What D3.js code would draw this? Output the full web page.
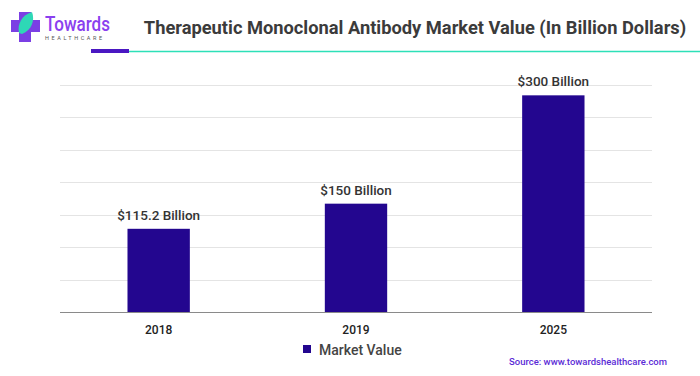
<!DOCTYPE html>
<html>
<head>
<meta charset="utf-8">
<script src="https://cdn.jsdelivr.net/npm/d3@7"></script>
<style>
  body { margin: 0; background: #fff; }
  svg { display: block; font-family: Roboto, "Liberation Sans", sans-serif; }
</style>
</head>
<body>
<svg id="chart" width="700" height="376"></svg>
<script>
var years = ["2018", "2019", "2025"]
var marketValue = [115.2, 150, 300]
var valueLabels = ["$115.2 Billion", "$150 Billion", "$300 Billion"]
var gridTicks = [0, 45, 90, 135, 180, 225, 270, 315]

var svg = d3.select("#chart"),
  margin = {top: 84.5, right: 48, bottom: 64, left: 60},
  width = +svg.attr("width") - margin.left - margin.right,
  height = +svg.attr("height") - margin.top - margin.bottom;

var x = d3.scaleBand().range([margin.left, margin.left + width]).domain(years).padding(0),
  y = d3.scaleLinear().range([margin.top + height, margin.top]).domain([0, 315]);

var barW = x.bandwidth() * 0.316

// header: logo
var logo = svg.append("g")
logo.append("rect").attr("x", 11).attr("y", 20).attr("width", 29).attr("height", 12).attr("fill", "#7b3fe4")
logo.append("rect").attr("x", 19).attr("y", 12).attr("width", 12).attr("height", 30).attr("fill", "#7b3fe4")
logo.append("path")
  .attr("d", "M19,33 C17,24 22,15 32,12 C35,20 32,30 22,34 Z")
  .attr("fill", "#2ed8b6")
logo.append("text").attr("x", 45).attr("y", 31).text("Towards")
  .attr("font-size", 20).attr("font-weight", 500).attr("fill", "#8a40ef")
  .attr("textLength", 65).attr("lengthAdjust", "spacingAndGlyphs")
logo.append("text").attr("x", 45).attr("y", 40).text("HEALTHCARE")
  .attr("font-size", 5.5).attr("letter-spacing", 2.6).attr("fill", "#555")

// title
svg.append("text").attr("x", 415).attr("y", 34).attr("text-anchor", "middle")
  .text("Therapeutic Monoclonal Antibody Market Value (In Billion Dollars)")
  .attr("font-size", 18.3).attr("font-weight", "bold").attr("fill", "#3b3b3b")

svg.append("line").attr("x1", 128).attr("x2", 700).attr("y1", 51.5).attr("y2", 51.5)
  .attr("stroke", "#2de0b8").attr("stroke-width", 1.5)
svg.append("rect").attr("x", 91).attr("y", 49).attr("width", 38).attr("height", 4).attr("fill", "#4a17c2")

// grid
svg.append("g").selectAll("line")
  .data(gridTicks.slice(1))
  .enter().append("line")
  .attr("x1", margin.left).attr("x2", margin.left + width)
  .attr("y1", d => Math.round(y(d)) + 0.5).attr("y2", d => Math.round(y(d)) + 0.5)
  .attr("stroke", "#e4e4e4").attr("stroke-width", 1)

// bars
svg.append("g").selectAll("rect")
  .data(years)
  .enter().append("rect")
  .attr("x", d => x(d) + x.bandwidth() / 2 - barW / 2)
  .attr("y", (d, i) => y(marketValue[i]))
  .attr("width", barW)
  .attr("height", (d, i) => y(0) - y(marketValue[i]))
  .attr("fill", "#23068f")

// baseline
svg.append("line").attr("x1", margin.left).attr("x2", margin.left + width)
  .attr("y1", y(0) + 0.5).attr("y2", y(0) + 0.5)
  .attr("stroke", "#8a8a8a").attr("stroke-width", 1.2)

// value labels
svg.append("g").selectAll("text")
  .data(years)
  .enter().append("text")
  .attr("x", d => x(d) + x.bandwidth() / 2)
  .attr("y", (d, i) => y(marketValue[i]) - 9)
  .attr("text-anchor", "middle")
  .text((d, i) => valueLabels[i])
  .attr("font-size", 13.5).attr("font-weight", 500).attr("fill", "#333")

// x axis
var xAxis = svg.append("g").attr("transform", "translate(0," + y(0) + ")")
  .call(d3.axisBottom(x).tickSize(0).tickPadding(13))
xAxis.select(".domain").remove()
xAxis.selectAll("text").attr("font-size", 12).attr("font-weight", 500).attr("fill", "#222")
  .attr("font-family", "Roboto, sans-serif")

// legend
svg.append("rect").attr("x", 303).attr("y", 345).attr("width", 8).attr("height", 8).attr("fill", "#23068f")
svg.append("text").attr("x", 319).attr("y", 355).text("Market Value")
  .attr("font-size", 14).attr("font-weight", 500).attr("fill", "#444")

// source
svg.append("text").attr("x", 509).attr("y", 364.5).text("Source: www.towardshealthcare.com")
  .attr("font-size", 9.5).attr("font-weight", 500).attr("fill", "#5b2bd6")
</script>
</body>
</html>
